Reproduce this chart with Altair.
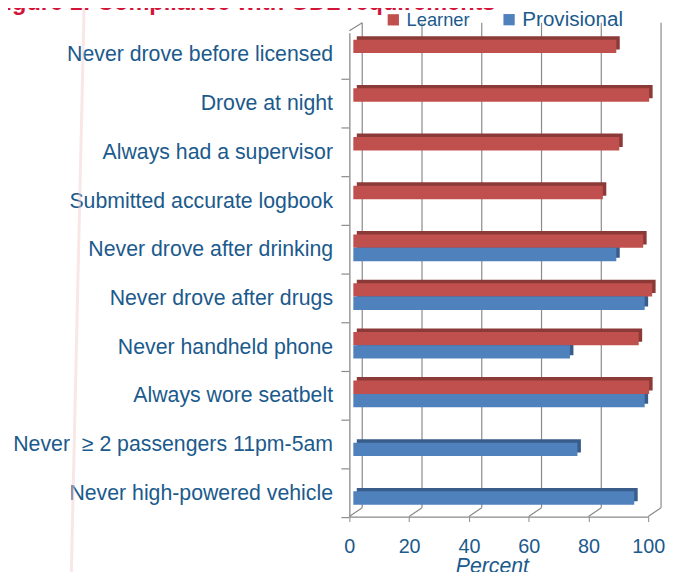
import altair as alt
import pandas as pd

# ---- data ----
categories = [
    "Never drove before licensed",
    "Drove at night",
    "Always had a supervisor",
    "Submitted accurate logbook",
    "Never drove after drinking",
    "Never drove after drugs",
    "Never handheld phone",
    "Always wore seatbelt",
    "Never \u00a0\u2265 2 passengers 11pm-5am",
    "Never high-powered vehicle",
]
learner = [88, 99, 89, 83.5, 97, 100, 95.5, 99, None, None]
provisional = [None, None, None, None, 88, 97.5, 72.5, 97.5, 75, 94]
series_names = ["Learner", "Provisional"]
ticks = [0, 20, 40, 60, 80, 100]
title_text = ["Figure 1: Compliance with GDL requirements"]

rows = []
for c, l, p in zip(categories, learner, provisional):
    if l is not None:
        rows.append({"category": c, "series": "Learner", "value": l})
    if p is not None:
        rows.append({"category": c, "series": "Provisional", "value": p})
df = pd.DataFrame(rows)
tick_df = pd.DataFrame({"tick": ticks})
cat_df = pd.DataFrame({"category": categories})
title_df = pd.DataFrame({"t": title_text})

FONT = "Liberation Sans"
LABEL_BLUE = "#1b5a8c"
GRID = "#8a8a8a"
W, H = 302, 489
BW = 27  # height of a pair of bars

xscale = alt.Scale(domain=[0, 100], nice=False)
yscale = alt.Scale(domain=categories, paddingInner=0.451, paddingOuter=0.193)

x_axis = alt.Axis(
    values=ticks,
    title="Percent",
    titleFont=FONT,
    titleFontSize=21.5,
    titleFontStyle="italic",
    titleFontWeight="normal",
    titleColor=LABEL_BLUE,
    titleX=144,
    titleY=40,
    titleBaseline="top",
    titleAlign="center",
    labelFont=FONT,
    labelFontSize=20,
    labelColor=LABEL_BLUE,
    labelPadding=15,
    labelFlush=False,
    tickSize=5,
    tickColor=GRID,
    domainColor=GRID,
    domainWidth=1.3,
    grid=False,
)
y_axis = alt.Axis(
    title=None,
    labelFont=FONT,
    labelFontSize=21.5,
    labelColor=LABEL_BLUE,
    labelLimit=400,
    labelPadding=17,
    ticks=False,
    domainColor=GRID,
    domainWidth=1.3,
    grid=False,
)

# back-wall gridlines (3D look)
grid = alt.Chart(tick_df).mark_rule(color=GRID, strokeWidth=1.2, xOffset=13).encode(
    x=alt.X("tick:Q", scale=xscale, axis=x_axis),
    y=alt.value(-10),
    y2=alt.value(480),
)
# floor diagonals
floor = alt.Chart(tick_df).mark_rule(color=GRID, strokeWidth=1.2, x2Offset=13).encode(
    x=alt.X("tick:Q", scale=xscale, axis=x_axis),
    x2="tick:Q",
    y=alt.value(H),
    y2=alt.value(H - 9),
)
corner = alt.Chart(tick_df).transform_filter("datum.tick == 0").mark_rule(
    color=GRID, strokeWidth=1.2, x2Offset=13
).encode(
    x=alt.X("tick:Q", scale=xscale, axis=x_axis),
    x2="tick:Q",
    y=alt.value(-2),
    y2=alt.value(-10),
)
# category tick marks on the left wall (at the lower edge of each category)
yticks = alt.Chart(cat_df).mark_rule(color=GRID, strokeWidth=1.2, yOffset=24).encode(
    y=alt.Y("category:N", scale=yscale, sort=categories, axis=y_axis),
    x=alt.value(-8),
    x2=alt.value(0),
)

# faint decorative background stroke
deco = alt.Chart(tick_df).transform_filter("datum.tick == 0").mark_rule(
    color="#f4d0d0", strokeWidth=3, opacity=0.5
).encode(x=alt.value(-268), x2=alt.value(-281), y=alt.value(-30), y2=alt.value(545))

# chart title (cut at the top edge as in the reference)
title = alt.Chart(title_df).mark_text(
    font=FONT, fontSize=23.8, fontWeight="bold", color="#d2143a",
    align="left", baseline="alphabetic",
).encode(text="t:N", x=alt.value(-362), y=alt.value(-23))

shadow = alt.Chart(df).mark_bar(xOffset=7.5).encode(
    x=alt.X("value:Q", scale=xscale, axis=x_axis),
    y=alt.Y("category:N", scale=yscale, sort=categories, axis=y_axis),
    yOffset=alt.YOffset(
        "series:N", sort=series_names, scale=alt.Scale(range=[-6, BW - 6])
    ),
    color=alt.Color(
        "series:N",
        scale=alt.Scale(domain=series_names, range=["#8c3a38", "#385d8a"]),
        legend=None,
    ),
)

bars = alt.Chart(df).mark_bar(xOffset=4).encode(
    x=alt.X("value:Q", scale=xscale, axis=x_axis),
    y=alt.Y("category:N", scale=yscale, sort=categories, axis=y_axis),
    yOffset=alt.YOffset(
        "series:N", sort=series_names, scale=alt.Scale(range=[-2.5, BW - 2.5])
    ),
    color=alt.Color(
        "series:N",
        scale=alt.Scale(domain=series_names, range=["#c0504d", "#4f81bd"]),
        legend=alt.Legend(
            title=None,
            orient="none",
            direction="horizontal",
            legendX=34,
            legendY=-24,
            symbolType="square",
            symbolSize=130,
            symbolStrokeWidth=0,
            labelFont=FONT,
            labelFontSize=alt.ExprRef(
                "datum.label === 'Learner' ? 18.5 : 20.8"
            ),
            labelColor=LABEL_BLUE,
            labelOffset=3,
            columnPadding=29,
            padding=0,
        ),
    ),
)

chart = (
    alt.layer(deco, grid, floor, corner, yticks, shadow, bars, title)
    .resolve_scale(color="independent", yOffset="independent")
    .properties(
        width=W,
        height=H,
        autosize=alt.AutoSizeParams(type="none"),
        padding={"left": 345, "top": 22, "right": 18, "bottom": 55},
    )
    .configure_view(stroke=None)
)

chart.save("out.html", embed_options={"renderer": "svg", "actions": False})
